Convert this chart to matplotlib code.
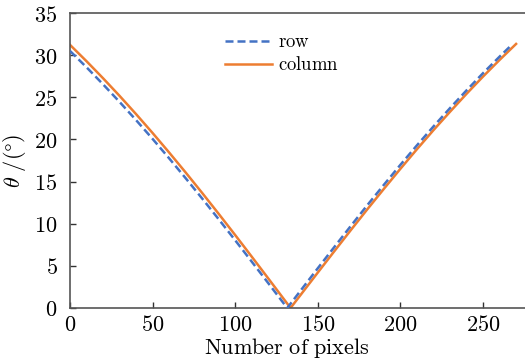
import matplotlib
matplotlib.use("Agg")
import matplotlib.pyplot as plt
from matplotlib.ticker import FuncFormatter

plt.rcParams['mathtext.fontset'] = 'cm'
plt.rcParams['font.family'] = ['DejaVu Serif']

# Data
x_row = [0, 10, 20, 30, 40, 50, 60, 70, 80, 90, 100, 110, 120, 130, 131.5,
         140, 150, 160, 170, 180, 190, 200, 210, 220, 230, 240, 250, 260, 266]
theta_row = [30.50, 28.56, 26.54, 24.45, 22.29, 20.06, 17.76, 15.40, 12.99, 10.53,
             8.03, 5.50, 2.95, 0.38, 0.0,
             2.17, 4.72, 7.24, 9.74, 12.21, 14.62, 16.99, 19.30, 21.54, 23.71,
             25.82, 27.86, 29.82, 30.96]

x_col = [0, 10, 20, 30, 40, 50, 60, 70, 80, 90, 100, 110, 120, 130, 133.5,
         140, 150, 160, 170, 180, 190, 200, 210, 220, 230, 240, 250, 260, 270]
theta_col = [31.22, 29.28, 27.26, 25.17, 23.00, 20.76, 18.45, 16.08, 13.65, 11.17,
             8.65, 6.09, 3.51, 0.91, 0.0,
             1.66, 4.21, 6.74, 9.25, 11.72, 14.14, 16.52, 18.84, 21.10, 23.28,
             25.41, 27.46, 29.43, 31.33]

labels = ['row', 'column']
xticks = [0, 50, 100, 150, 200, 250]
yticks = [0, 5, 10, 15, 20, 25, 30, 35]

W, H = 525, 364
fig = plt.figure(figsize=(W / 100, H / 100), dpi=100)
ax = fig.add_axes([70 / W, 1 - 308 / H, 462.6 / W, 295 / H])

ax.plot(x_row, theta_row, color='#4472C4', lw=1.8, dashes=(3.2, 1.6), label=labels[0], zorder=3)
ax.plot(x_col, theta_col, color='#ED7D31', lw=1.8, label=labels[1], zorder=2)

ax.set_xlim(0, 280)
ax.set_ylim(0, 35)
ax.set_xticks(xticks)
ax.set_yticks(yticks)
fmt = FuncFormatter(lambda v, p: r'$\mathrm{%d}$' % v)
ax.xaxis.set_major_formatter(fmt)
ax.yaxis.set_major_formatter(fmt)
ax.tick_params(direction='in', length=4, width=1.0, colors='#333333', labelsize=16,
               labelcolor='black')
ax.tick_params(axis='x', pad=4)
ax.tick_params(axis='y', pad=9)
for s in ['left', 'bottom', 'top', 'right']:
    ax.spines[s].set_linewidth(1.2)
    ax.spines[s].set_color('#555555')

ax.set_xlabel(r'$\mathrm{Number\ of\ pixels}$', fontsize=16)
ax.xaxis.set_label_coords(0.469, -0.095)
ax.set_ylabel(r'$\theta\ /(\degree)$', fontsize=16)
ax.yaxis.set_label_coords(-0.09, 0.5)

leg = fig.legend(loc='center left', bbox_to_anchor=(225 / W, 1 - 53.5 / H),
                 bbox_transform=fig.transFigure, frameon=False,
                 prop={'family': 'DejaVu Serif', 'size': 12},
                 handlelength=2.8, handletextpad=0.4, labelspacing=0.3,
                 borderpad=0, borderaxespad=0)
for t in leg.get_texts():
    t.set_text(r'$\mathrm{%s}$' % t.get_text())
    t.set_fontsize(13.5)

fig.savefig('out.png', dpi=100)
